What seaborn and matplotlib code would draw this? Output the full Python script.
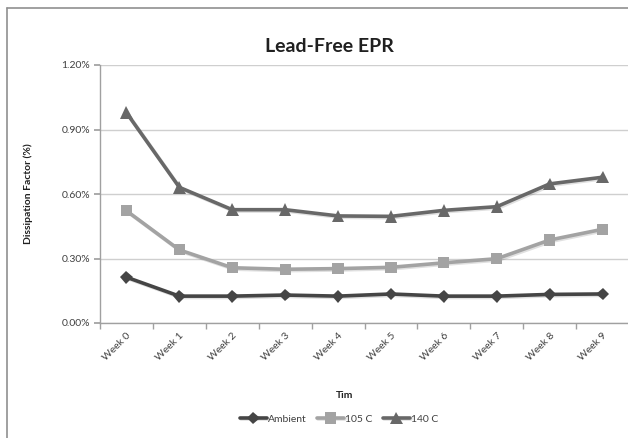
import matplotlib
matplotlib.use("Agg")
import matplotlib.pyplot as plt
import matplotlib.ticker as mticker
import matplotlib.patheffects as pe
import numpy as np
import pandas as pd
import seaborn as sns

weeks = ["Week 0", "Week 1", "Week 2", "Week 3", "Week 4",
         "Week 5", "Week 6", "Week 7", "Week 8", "Week 9"]
ambient = [0.213, 0.125, 0.125, 0.130, 0.125, 0.135, 0.125, 0.125, 0.133, 0.135]
c105 = [0.522, 0.340, 0.257, 0.250, 0.253, 0.259, 0.280, 0.299, 0.386, 0.436]
c140 = [0.978, 0.631, 0.527, 0.527, 0.498, 0.496, 0.524, 0.541, 0.647, 0.678]
series_names = ["Ambient", "105 C", "140 C"]
y_ticks = [0.0, 0.3, 0.6, 0.9, 1.2]

df = pd.DataFrame({
    "idx": list(range(len(weeks))) * 3,
    "value": ambient + c105 + c140,
    "series": [s for s in series_names for _ in weeks],
})

sns.set_theme(style="white")
plt.rcParams["font.family"] = ["Lato", "DejaVu Sans"]

fig = plt.figure(figsize=(6.28, 4.38), dpi=100)
ax = fig.add_axes([100 / 628, (438 - 323) / 438, 529 / 628, (323 - 65) / 438])

palette = {"Ambient": "#454545", "105 C": "#a3a3a3", "140 C": "#686868"}
markers = {"Ambient": "D", "105 C": "s", "140 C": "^"}
sizes = {"Ambient": 6.5, "105 C": 8, "140 C": 9}
shadow = [pe.SimpleLineShadow(offset=(1, -1), shadow_color="#000000", alpha=0.12),
          pe.Normal()]

for name in series_names:
    sub = df[df["series"] == name]
    sns.lineplot(data=sub, x="idx", y="value", ax=ax, color=palette[name],
                 marker=markers[name], markersize=sizes[name], linewidth=2.6,
                 markeredgewidth=0, label=name, legend=False, zorder=3)
for line in ax.get_lines():
    line.set_path_effects(shadow)

ax.set_xlim(-0.5, len(weeks) - 0.5)
ax.set_ylim(0, 1.2)
ax.set_yticks(y_ticks)
ax.yaxis.set_major_formatter(mticker.FuncFormatter(lambda v, p: f"{v:.2f}%"))
ax.set_xticks(range(len(weeks)))
ax.set_xticklabels(weeks, rotation=45, ha="right", rotation_mode="anchor",
                   fontsize=7.5, color="#404040")
ax.set_xticks(np.arange(-0.5, len(weeks), 1.0), minor=True)
ax.tick_params(axis="x", which="major", length=0, pad=6)
ax.tick_params(axis="x", which="minor", length=4, color="#a0a0a0", direction="out",
               bottom=True)
ax.tick_params(axis="y", labelsize=7.5, labelcolor="#404040", length=4,
               color="#a0a0a0", direction="out", left=True, pad=3)
ax.grid(axis="y", color="#cfcfcf", linewidth=1)
ax.set_axisbelow(True)
for side in ["top", "right"]:
    ax.spines[side].set_visible(False)
for side in ["left", "bottom"]:
    ax.spines[side].set_color("#a0a0a0")
    ax.spines[side].set_linewidth(1)

ax.set_xlabel("")
ax.set_ylabel("Dissipation Factor (%)", fontsize=7.5, fontweight="bold",
              color="#202020", labelpad=10)
ax.yaxis.set_label_coords(-(100 - 33) / 529, 0.5)

fig.text(329 / 628, 1 - 47 / 438, "Lead-Free EPR", ha="center", va="center",
         fontsize=14, fontweight="bold", color="#202020")
fig.text(345 / 628, 1 - 396 / 438, "Tim", ha="center", va="center",
         fontsize=7.5, fontweight="bold", color="#202020")

handles, labels = ax.get_legend_handles_labels()
fig.legend(handles, labels, loc="center", bbox_to_anchor=(339 / 628, 1 - 419 / 438),
           ncol=3, frameon=False, fontsize=7.5, handlelength=2.6,
           columnspacing=1.0, handletextpad=0.1, labelcolor="#404040")

# chart frame lines
fig.add_artist(plt.Line2D([7 / 628, 7 / 628], [0, 1 - 8 / 438],
                          transform=fig.transFigure, color="#909090", lw=1.2))
fig.add_artist(plt.Line2D([7 / 628, 1], [1 - 7.5 / 438, 1 - 7.5 / 438],
                          transform=fig.transFigure, color="#909090", lw=1.2))

fig.savefig("out.png", dpi=100, facecolor="white")
